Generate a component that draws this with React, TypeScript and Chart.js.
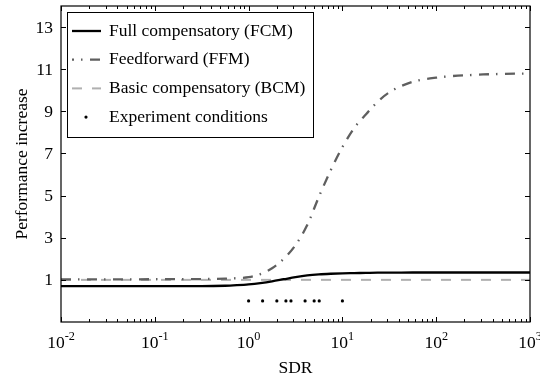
import React, { useEffect, useRef } from "react";
import { Chart, registerables } from "chart.js";

Chart.register(...registerables);

// ---- data ----
const SDR_GRID = [
  0.01, 0.0316, 0.1, 0.316, 0.562, 0.75, 1, 1.334, 1.778, 2.371, 3.162, 4.217, 5.623, 7.499, 10, 13.34, 17.78,
  23.71, 31.62, 56.23, 100, 316.2, 1000,
];
const FCM_VALUES = [
  0.7, 0.7, 0.7, 0.7, 0.72, 0.75, 0.79, 0.85, 0.93, 1.03, 1.13, 1.21, 1.26, 1.29, 1.31, 1.32, 1.33, 1.34, 1.34,
  1.35, 1.35, 1.35, 1.35,
];
const FFM_VALUES = [
  1.02, 1.02, 1.03, 1.04, 1.06, 1.08, 1.13, 1.27, 1.55, 2.0, 2.65, 3.6, 4.95, 6.2, 7.3, 8.2, 8.85, 9.45, 9.9,
  10.4, 10.6, 10.75, 10.8,
];
const BCM_SDR = [0.01, 1000];
const BCM_VALUES = [1, 1];
const EXP_SDR = [1, 1.41, 2, 2.5, 2.83, 4, 5, 5.66, 10];
const EXP_VALUES = [0, 0, 0, 0, 0, 0, 0, 0, 0];

const SERIES_LABELS = [
  "Full compensatory (FCM)",
  "Feedforward (FFM)",
  "Basic compensatory (BCM)",
  "Experiment conditions",
];

const X_DECADES = [0.01, 0.1, 1, 10, 100, 1000];
const X_EXPONENTS = ["-2", "-1", "0", "1", "2", "3"];
const Y_TICKS = [1, 3, 5, 7, 9, 11, 13];
const X_TITLE = "SDR";
const Y_TITLE = "Performance increase";

const FONT = "'Liberation Serif', 'Times New Roman', serif";
const FS = 17.5;

const pts = (xs: number[], ys: number[]) => xs.map((x, i) => ({ x, y: ys[i] }));

const decorPlugin = {
  id: "decor",
  afterDraw(chart: any) {
    const ctx: CanvasRenderingContext2D = chart.ctx;
    const { left, right, top, bottom } = chart.chartArea;
    const xs = chart.scales.x;
    const ys = chart.scales.y;
    ctx.save();
    ctx.strokeStyle = "#000";
    ctx.lineWidth = 1.2;
    ctx.setLineDash([]);
    // frame
    ctx.strokeRect(left, top, right - left, bottom - top);

    // x ticks (major + minor), bottom and top, inward
    ctx.lineWidth = 1;
    ctx.beginPath();
    X_DECADES.forEach((d) => {
      const px = Math.round(xs.getPixelForValue(d)) + 0.5;
      ctx.moveTo(px, bottom);
      ctx.lineTo(px, bottom - 5);
      ctx.moveTo(px, top);
      ctx.lineTo(px, top + 5);
      if (d < 1000) {
        for (let m = 2; m <= 9; m++) {
          const mx = Math.round(xs.getPixelForValue(d * m)) + 0.5;
          ctx.moveTo(mx, bottom);
          ctx.lineTo(mx, bottom - 3);
          ctx.moveTo(mx, top);
          ctx.lineTo(mx, top + 3);
        }
      }
    });
    Y_TICKS.forEach((v) => {
      const py = Math.round(ys.getPixelForValue(v)) + 0.5;
      ctx.moveTo(left, py);
      ctx.lineTo(left + 5, py);
      ctx.moveTo(right, py);
      ctx.lineTo(right - 5, py);
    });
    ctx.stroke();

    // y tick labels
    ctx.fillStyle = "#000";
    ctx.font = `${FS}px ${FONT}`;
    ctx.textAlign = "right";
    ctx.textBaseline = "middle";
    Y_TICKS.forEach((v) => {
      ctx.fillText(String(v), left - 8, ys.getPixelForValue(v) + 1);
    });

    // x tick labels 10^n
    ctx.textBaseline = "alphabetic";
    X_DECADES.forEach((d, i) => {
      const px = xs.getPixelForValue(d);
      ctx.font = `${FS}px ${FONT}`;
      const wBase = ctx.measureText("10").width;
      ctx.font = `${FS * 0.7}px ${FONT}`;
      const wExp = ctx.measureText(X_EXPONENTS[i]).width;
      const x0 = px - (wBase + wExp) / 2;
      ctx.textAlign = "left";
      ctx.font = `${FS}px ${FONT}`;
      ctx.fillText("10", x0, bottom + 26);
      ctx.font = `${FS * 0.7}px ${FONT}`;
      ctx.fillText(X_EXPONENTS[i], x0 + wBase, bottom + 18);
    });

    // axis titles
    ctx.font = `${FS}px ${FONT}`;
    ctx.textAlign = "center";
    ctx.textBaseline = "middle";
    ctx.fillText(X_TITLE, (left + right) / 2, bottom + 46);
    ctx.save();
    ctx.translate(22, (top + bottom) / 2);
    ctx.rotate(-Math.PI / 2);
    ctx.fillText(Y_TITLE, 0, 0);
    ctx.restore();

    // legend box
    const bx = left + 6;
    const by = top + 6;
    const bw = 246;
    const bh = 125;
    ctx.fillStyle = "#fff";
    ctx.fillRect(bx, by, bw, bh);
    ctx.strokeStyle = "#000";
    ctx.lineWidth = 1;
    ctx.strokeRect(bx + 0.5, by + 0.5, bw, bh);
    chart.data.datasets.forEach((ds: any, i: number) => {
      const cy = by + 19 + i * 28.7;
      if (ds.showLine === false) {
        ctx.beginPath();
        ctx.fillStyle = ds.backgroundColor;
        ctx.arc(bx + 19, cy, ds.pointRadius, 0, Math.PI * 2);
        ctx.fill();
      } else {
        ctx.beginPath();
        ctx.strokeStyle = ds.borderColor;
        ctx.lineWidth = ds.borderWidth;
        ctx.setLineDash(ds.borderDash || []);
        ctx.lineDashOffset = ds.legendDashOffset || 0;
        ctx.moveTo(bx + 5, cy);
        ctx.lineTo(bx + 34, cy);
        ctx.stroke();
        ctx.setLineDash([]);
      }
      ctx.fillStyle = "#000";
      ctx.font = `${FS}px ${FONT}`;
      ctx.textAlign = "left";
      ctx.textBaseline = "middle";
      ctx.fillText(ds.label, bx + 42, cy);
    });
    ctx.restore();
  },
};

export default function App() {
  const ref = useRef<HTMLCanvasElement | null>(null);
  useEffect(() => {
    if (!ref.current) return;
    const chart = new Chart(ref.current, {
      type: "line",
      data: {
        datasets: [
          {
            label: SERIES_LABELS[0],
            data: pts(SDR_GRID, FCM_VALUES),
            borderColor: "#000000",
            borderWidth: 2.3,
            pointRadius: 0,
            cubicInterpolationMode: "monotone",
            order: 1,
          } as any,
          {
            label: SERIES_LABELS[1],
            data: pts(SDR_GRID, FFM_VALUES),
            borderColor: "#5f5f5f",
            borderWidth: 2.3,
            borderDash: [10, 7, 1.5, 7.5],
            legendDashOffset: 8,
            pointRadius: 0,
            cubicInterpolationMode: "monotone",
            order: 2,
          } as any,
          {
            label: SERIES_LABELS[2],
            data: pts(BCM_SDR, BCM_VALUES),
            borderColor: "#b0b0b0",
            borderWidth: 2,
            borderDash: [10, 10],
            pointRadius: 0,
            order: 3,
          } as any,
          {
            label: SERIES_LABELS[3],
            data: pts(EXP_SDR, EXP_VALUES),
            showLine: false,
            pointRadius: 1.6,
            pointBackgroundColor: "#000",
            backgroundColor: "#000",
            pointBorderWidth: 0,
            order: 0,
          } as any,
        ],
      },
      options: {
        animation: false,
        responsive: false,
        layout: { padding: { top: 6, right: 10, left: 0, bottom: 0 } },
        plugins: { legend: { display: false }, tooltip: { enabled: false } },
        scales: {
          x: {
            type: "logarithmic",
            min: 0.01,
            max: 1000,
            ticks: { display: false },
            grid: { display: false },
            border: { display: false },
            afterFit: (s: any) => {
              s.height = 55;
            },
          },
          y: {
            type: "linear",
            min: -1,
            max: 14,
            ticks: { display: false },
            grid: { display: false },
            border: { display: false },
            afterFit: (s: any) => {
              s.width = 61;
            },
          },
        },
      },
      plugins: [decorPlugin],
    });
    return () => chart.destroy();
  }, []);
  return (
    <div style={{ position: "fixed", left: 0, top: 0, width: 540, height: 377, background: "#fff" }}>
      <canvas ref={ref} width={540} height={377} style={{ width: 540, height: 377, display: "block" }} />
    </div>
  );
}
